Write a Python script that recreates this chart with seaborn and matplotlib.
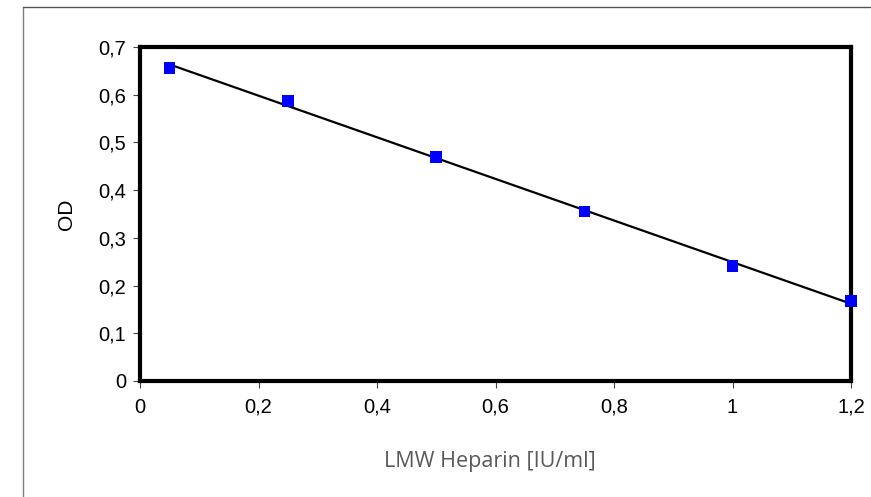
import numpy as np
import pandas as pd
import matplotlib
matplotlib.use("Agg")
import matplotlib.pyplot as plt
import seaborn as sns
from matplotlib.lines import Line2D

# Data
heparin = [0.05, 0.25, 0.5, 0.75, 1.0, 1.2]
od = [0.656, 0.587, 0.469, 0.355, 0.241, 0.168]
x_ticks = [0, 0.2, 0.4, 0.6, 0.8, 1.0, 1.2]
x_labels = ["0", "0,2", "0,4", "0,6", "0,8", "1", "1,2"]
y_ticks = [0, 0.1, 0.2, 0.3, 0.4, 0.5, 0.6, 0.7]
y_labels = ["0", "0,1", "0,2", "0,3", "0,4", "0,5", "0,6", "0,7"]

df = pd.DataFrame({"x": heparin, "y": od})

sns.set_theme(style="white")
plt.rcParams['font.family'] = ['Liberation Sans', 'DejaVu Sans']

fig = plt.figure(figsize=(8.71, 4.97), dpi=100)
ax = fig.add_axes([140/871, 1-381/497, (851-140)/871, (381-47)/497])

# trend line (linear fit)
slope, intercept = np.polyfit(df["x"], df["y"], 1)
xl = np.array([min(heparin), max(heparin)])
ax.plot(xl, slope*xl + intercept, color="black", lw=1.6, zorder=2)

sns.scatterplot(data=df, x="x", y="y", ax=ax, marker="s", s=70,
                color="#0000FF", edgecolor="none", zorder=3, clip_on=False)

ax.set_xlim(0, 1.2)
ax.set_ylim(0, 0.7)
ax.set_xticks(x_ticks)
ax.set_xticklabels(x_labels)
ax.set_yticks(y_ticks)
ax.set_yticklabels(y_labels)
ax.tick_params(axis="both", which="both", direction="out", length=5, width=0.8,
               color="#444444", labelsize=14.5, labelcolor="black", pad=5,
               bottom=True, left=True)
ax.tick_params(axis="x", pad=7)
for sp in ax.spines.values():
    sp.set_visible(True)
    sp.set_color("black")
    sp.set_linewidth(3)
ax.grid(False)

ax.set_xlabel("")
ax.set_ylabel("OD", fontsize=15, color="black", labelpad=16)

fig.text(490/871, 1-462/497, "LMW Heparin [IU/ml]", ha="center", va="center",
         fontsize=15.5, color="#595959", family=["Open Sans", "DejaVu Sans"])

# outer chart frame (top and left visible)
fig.add_artist(Line2D([23/871, 23/871], [0, 1-7/497], transform=fig.transFigure,
                      color="#7f7f7f", lw=1.0))
fig.add_artist(Line2D([23/871, 870/871], [1-7/497, 1-7/497], transform=fig.transFigure,
                      color="#555555", lw=1.0))

fig.savefig("out.png", dpi=100)
